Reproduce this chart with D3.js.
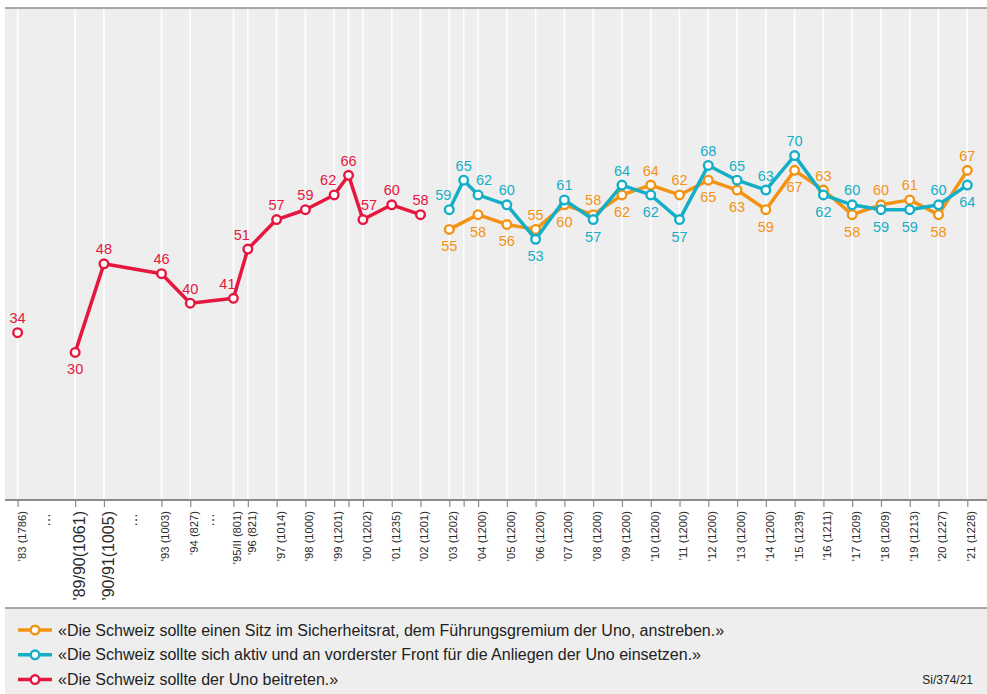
<!DOCTYPE html>
<html>
<head>
<meta charset="utf-8">
<script src="https://cdnjs.cloudflare.com/ajax/libs/d3/7.8.5/d3.min.js"></script>
<style>
  body { margin: 0; background: #fff; }
  svg text { font-family: "Liberation Sans", Arial, Helvetica, sans-serif; }
  .tick-label.wide { font-family: "Liberation Sans Narrow", "Arial Narrow", "Liberation Sans", sans-serif !important; }
</style>
</head>
<body>
<div id="chart"></div>
<script>
// survey waves (label) and their place on the irregular time axis
var surveys = ["’83 (1786)", "’89/90(1061)", "’90/91(1005)", "’93 (1003)", "’94 (827)",
  "’95/II (801)", "’96 (821)", "’97 (1014)", "’98 (1000)", "’99 (1201)", "", "’00 (1202)",
  "’01 (1235)", "’02 (1201)", "’03 (1202)", "", "’04 (1200)", "’05 (1200)", "’06 (1200)",
  "’07 (1200)", "’08 (1200)", "’09 (1200)", "’10 (1200)", "’11 (1200)", "’12 (1200)",
  "’13 (1200)", "’14 (1200)", "’15 (1239)", "’16 (1211)", "’17 (1209)", "’18 (1209)",
  "’19 (1213)", "’20 (1227)", "’21 (1228)"];
var slots = [0, 2, 3, 5, 6, 7.5, 8, 9, 10, 11, 11.5, 12, 13, 14, 15, 15.5,
  16, 17, 18, 19, 20, 21, 22, 23, 24, 25, 26, 27, 28, 29, 30, 31, 32, 33];
var ellipsisSlots = [1, 4, 6.7];

var beitreten = [34, 30, 48, 46, 40, 41, 51, 57, 59, 62, 66, 57, 60, 58,
  null, null, null, null, null, null, null, null, null, null, null, null, null, null, null, null, null, null, null, null];
var einsetzen = [null, null, null, null, null, null, null, null, null, null, null, null, null, null,
  59, 65, 62, 60, 53, 61, 57, 64, 62, 57, 68, 65, 63, 70, 62, 60, 59, 59, 60, 64];
var sitz = [null, null, null, null, null, null, null, null, null, null, null, null, null, null,
  55, null, 58, 56, 55, 60, 58, 62, 64, 62, 65, 63, 59, 67, 63, 58, 60, 61, 58, 67];
var lineBreaks = ["’83 (1786)"]; // no connecting line after these waves

var series = [
  {name: "«Die Schweiz sollte der Uno beitreten.»", values: beitreten, color: "#e5173f"},
  {name: "«Die Schweiz sollte einen Sitz im Sicherheitsrat, dem Führungsgremium der Uno, anstreben.»", values: sitz, color: "#f39314"},
  {name: "«Die Schweiz sollte sich aktiv und an vorderster Front für die Anliegen der Uno einsetzen.»", values: einsetzen, color: "#14afc7"}
];
var legendOrder = [1, 2, 0];
var source = "Si/374/21";

var width = 987, height = 694;
var plot = {left: 5, right: 987, top: 8, bottom: 500};

var svg = d3.select("#chart").append("svg")
  .attr("width", width)
  .attr("height", height);

var x = d3.scaleLinear().domain([0, 33]).range([17.6, 967.3]);
var y = d3.scaleLinear().domain([0, 100]).range([plot.bottom, plot.top]);

// background
svg.append("rect")
  .attr("x", plot.left).attr("y", plot.top)
  .attr("width", plot.right - plot.left).attr("height", plot.bottom - plot.top)
  .attr("fill", "#eeeeee");

// vertical grid
svg.append("g").selectAll("line")
  .data(slots)
  .enter().append("line")
  .attr("x1", function(d) { return x(d); })
  .attr("x2", function(d) { return x(d); })
  .attr("y1", plot.top)
  .attr("y2", plot.bottom)
  .attr("stroke", "#fff")
  .attr("stroke-width", 1.5);

svg.append("line")
  .attr("x1", plot.left).attr("x2", plot.right)
  .attr("y1", plot.top).attr("y2", plot.top)
  .attr("stroke", "#8c8c8c").attr("stroke-width", 1.5);

// x axis
var xAxis = d3.axisBottom(x)
  .tickValues(slots)
  .tickSize(7)
  .tickFormat("");
var axisG = svg.append("g")
  .attr("transform", "translate(0," + plot.bottom + ")")
  .call(xAxis);
axisG.select(".domain")
  .attr("d", "M" + plot.left + ",0H" + plot.right)
  .attr("stroke", "#8c8c8c").attr("stroke-width", 2);
axisG.selectAll(".tick line").attr("stroke", "#8c8c8c").attr("stroke-width", 1.2);

function isWide(lbl) { return /^’\d\d\/\d\d/.test(lbl); }

svg.append("g").selectAll("text")
  .data(slots)
  .enter().append("text")
  .attr("class", function(d, i) { return isWide(surveys[i]) ? "tick-label wide" : "tick-label"; })
  .attr("transform", function(d) { return "translate(" + (x(d) + 4) + "," + 511 + ") rotate(-90)"; })
  .attr("text-anchor", "end")
  .attr("dy", "0.35em")
  .style("font-size", function(d, i) { return isWide(surveys[i]) ? "16px" : "11.2px"; })
  .attr("fill", "#2a2a2a")
  .text(function(d, i) { return surveys[i]; });

svg.append("g").selectAll("text")
  .data(ellipsisSlots)
  .enter().append("text")
  .attr("class", "tick-label")
  .attr("transform", function(d) { return "translate(" + (x(d) + 4) + "," + 513 + ") rotate(-90)"; })
  .attr("text-anchor", "end")
  .style("font-size", "14px")
  .attr("fill", "#2a2a2a")
  .text("…");

// lines & markers
series.forEach(function(s) {
  s.points = [];
  s.values.forEach(function(v, i) {
    if (v != null) s.points.push({slot: slots[i], v: v, label: surveys[i], idx: i});
  });
});

var line = d3.line()
  .x(function(d) { return x(d.slot); })
  .y(function(d) { return y(d.v); });

var drawOrder = [0, 1, 2];
drawOrder.forEach(function(si) {
  var s = series[si];
  var segs = [[]];
  s.points.forEach(function(p) {
    segs[segs.length - 1].push(p);
    if (lineBreaks.indexOf(p.label) >= 0) segs.push([]);
  });
  var g = svg.append("g");
  segs.filter(function(sg) { return sg.length > 1; }).forEach(function(sg) {
    g.append("path")
      .attr("d", line(sg))
      .attr("fill", "none")
      .attr("stroke", s.color)
      .attr("stroke-width", 3.5)
      .attr("stroke-linejoin", "round");
  });
  g.selectAll("circle")
    .data(s.points)
    .enter().append("circle")
    .attr("cx", function(d) { return x(d.slot); })
    .attr("cy", function(d) { return y(d.v); })
    .attr("r", 4.3)
    .attr("fill", "#fff")
    .attr("stroke", s.color)
    .attr("stroke-width", 2.4);
});

// value labels
series.forEach(function(s, si) {
  var minV = d3.min(s.points, function(d) { return d.v; });
  s.points.forEach(function(p, k) {
    var below;
    if (si === 0) {
      below = p.v === minV;
    } else {
      var other = series[si === 1 ? 2 : 1].values[p.idx];
      below = other != null && other > p.v;
    }
    var prev = s.points[k - 1], next = s.points[k + 1];
    var dx = 0;
    var close = (prev && p.slot - prev.slot <= 0.5) || (next && next.slot - p.slot <= 0.5);
    if (close) {
      var isMax = (!prev || prev.v < p.v) && (!next || next.v < p.v);
      if (!isMax) {
        if (next && (!prev || next.v > prev.v)) dx = -6; else dx = 6;
      }
    }
    svg.append("text")
      .attr("x", x(p.slot) + dx)
      .attr("y", y(p.v) + (below ? 22 : -9.5))
      .attr("text-anchor", "middle")
      .style("font-size", "14.5px")
      .attr("fill", s.color)
      .text(p.v);
  });
});

// legend
var legTop = 608;
svg.append("rect")
  .attr("x", plot.left).attr("y", legTop)
  .attr("width", plot.right - plot.left).attr("height", height - legTop)
  .attr("fill", "#eeeeee");
svg.append("line")
  .attr("x1", plot.left).attr("x2", plot.right)
  .attr("y1", legTop).attr("y2", legTop)
  .attr("stroke", "#8c8c8c").attr("stroke-width", 1.5);

var legend = svg.append("g").selectAll("g")
  .data(legendOrder)
  .enter().append("g")
  .attr("transform", function(d, i) { return "translate(0," + (630 + i * 24.8) + ")"; });
legend.append("line")
  .attr("x1", 18).attr("x2", 52)
  .attr("stroke", function(d) { return series[d].color; })
  .attr("stroke-width", 3.5);
legend.append("circle")
  .attr("cx", 35).attr("r", 4.3)
  .attr("fill", "#fff")
  .attr("stroke", function(d) { return series[d].color; })
  .attr("stroke-width", 2.4);
legend.append("text")
  .attr("x", 58)
  .attr("dy", "0.35em")
  .style("font-size", "16px")
  .attr("fill", "#222")
  .text(function(d) { return series[d].name; });

svg.append("text")
  .attr("x", 973).attr("y", 680)
  .attr("dy", "0.35em")
  .attr("text-anchor", "end")
  .style("font-size", "12px")
  .attr("fill", "#222")
  .text(source);
</script>
</body>
</html>
